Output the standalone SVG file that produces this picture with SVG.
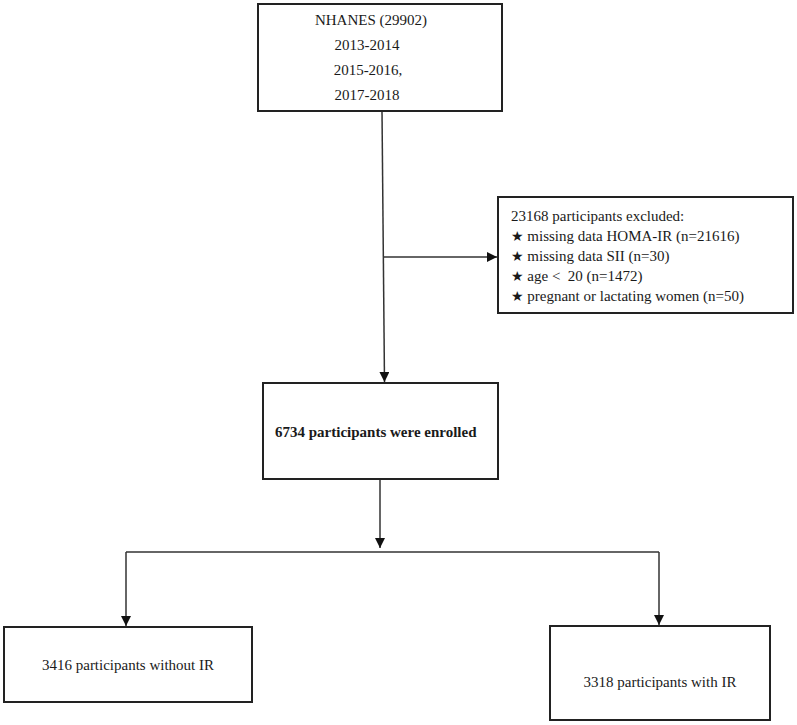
<svg xmlns="http://www.w3.org/2000/svg" width="797" height="725" viewBox="0 0 797 725">
<defs>
<style>
.box{fill:#fff;stroke:#222;stroke-width:2}
.t{font-family:"Liberation Serif","Times New Roman",serif;font-size:15px;fill:#1a1a1a}
.b{font-weight:bold}
.star{font-family:"DejaVu Sans",sans-serif;font-size:14px}
.c{fill:none;stroke:#333;stroke-width:1.5}
</style>
<marker id="ah" markerUnits="userSpaceOnUse" markerWidth="10" markerHeight="10" viewBox="0 0 10 10" refX="10" refY="5" orient="auto">
<path d="M0,0 L10,5 L0,10 Z" fill="#111"/>
</marker>
</defs>
<rect width="797" height="725" fill="#fff"/>
<g id="connectors">
<path class="c" d="M382,111 L384.5,382" marker-end="url(#ah)"/>
<path class="c" d="M384,257 L497,257" marker-end="url(#ah)"/>
<path class="c" d="M380,480 L380,548" marker-end="url(#ah)"/>
<path class="c" d="M126,552 L659,552"/>
<path class="c" d="M126,552 L126,626" marker-end="url(#ah)"/>
<path class="c" d="M659,552 L659,625" marker-end="url(#ah)"/>
</g>
<g id="node-nhanes">
<rect class="box" x="258" y="4" width="244" height="107"/>
<text class="t" x="371" y="25" text-anchor="middle">NHANES (29902)</text>
<text class="t" x="367" y="50" text-anchor="middle">2013-2014</text>
<text class="t" x="368" y="75" text-anchor="middle">2015-2016,</text>
<text class="t" x="367" y="100" text-anchor="middle">2017-2018</text>
</g>
<g id="node-excluded">
<rect class="box" x="498" y="197" width="295" height="116"/>
<text class="t" x="511" y="221">23168 participants excluded:</text>
<text class="t" x="511" y="241"><tspan class="star">★</tspan> missing data HOMA-IR (n=21616)</text>
<text class="t" x="511" y="261"><tspan class="star">★</tspan> missing data SII (n=30)</text>
<text class="t" x="511" y="281"><tspan class="star">★</tspan> age &lt;&#160; 20 (n=1472)</text>
<text class="t" x="511" y="301"><tspan class="star">★</tspan> pregnant or lactating women (n=50)</text>
</g>
<g id="node-enrolled">
<rect class="box" x="263" y="383" width="235" height="96"/>
<text class="t b" x="275" y="437">6734 participants were enrolled</text>
</g>
<g id="node-without">
<rect class="box" x="4" y="627" width="248" height="75"/>
<text class="t" x="128" y="670" text-anchor="middle">3416 participants without IR</text>
</g>
<g id="node-with">
<rect class="box" x="550" y="626" width="220" height="94"/>
<text class="t" x="660" y="687" text-anchor="middle">3318 participants with IR</text>
</g>
</svg>
